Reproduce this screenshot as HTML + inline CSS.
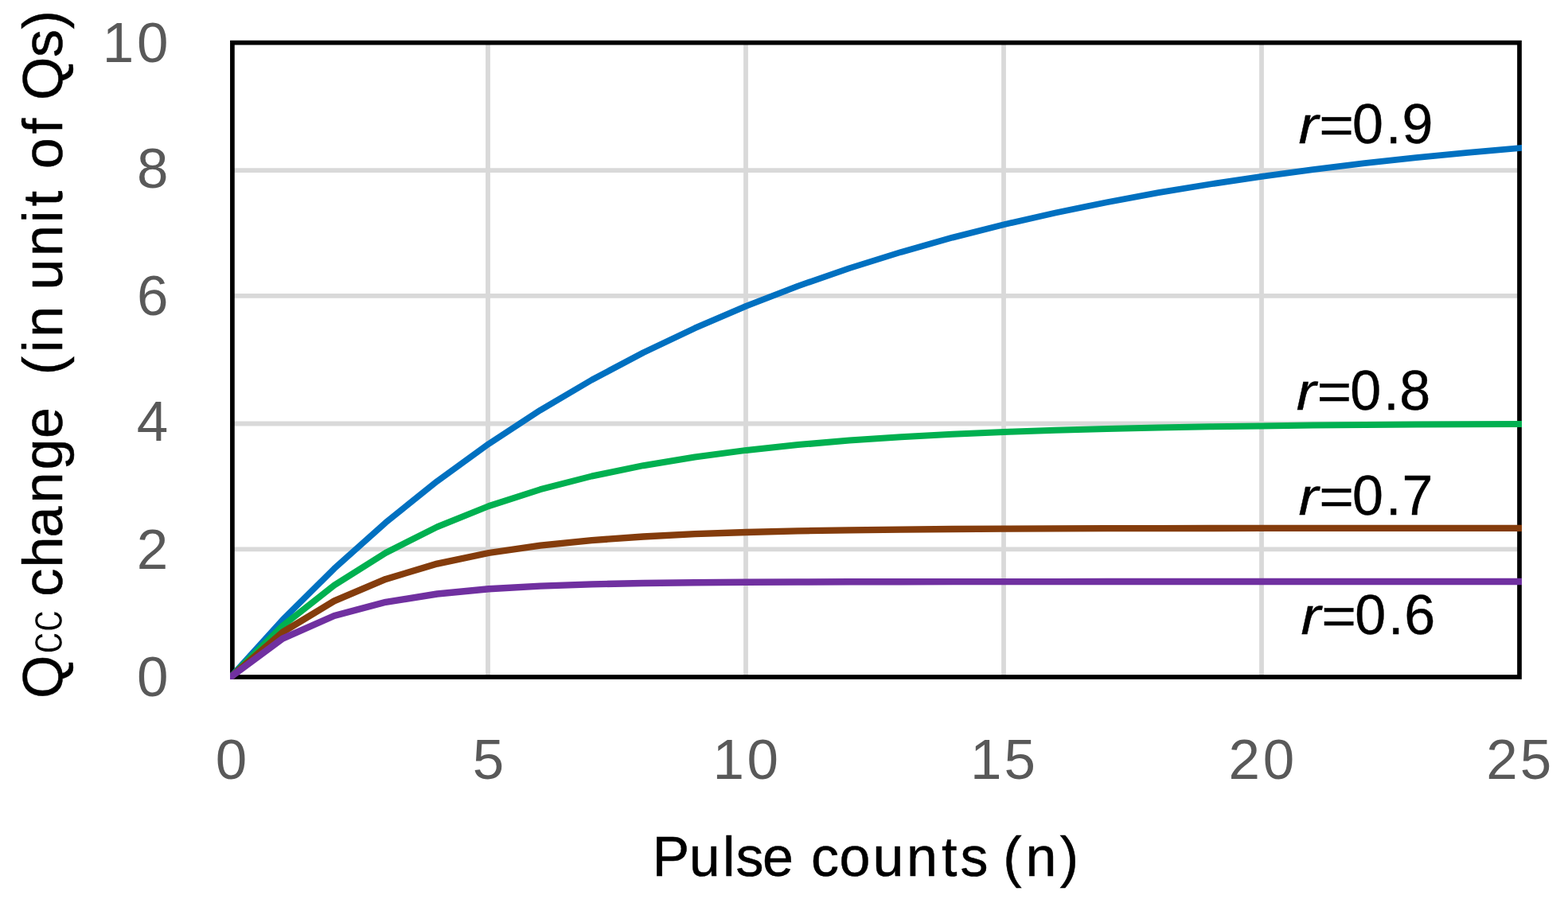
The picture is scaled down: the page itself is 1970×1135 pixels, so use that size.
<!DOCTYPE html>
<html lang="en"><head><meta charset="utf-8"><title>Qcc change vs pulse counts</title>
<style>
html,body{margin:0;padding:0;background:#fff;}
body{width:1970px;height:1135px;overflow:hidden;}
svg{display:block;filter:blur(0.6px);}
text{font-family:"Liberation Sans",sans-serif;white-space:pre;}
.tk{fill:#595959;font-size:71px;}
.lb{fill:#000;font-size:70px;stroke:#000;stroke-width:0.4px;}
.ax{fill:#000;font-size:70px;stroke:#000;stroke-width:0.5px;}
.it{font-style:italic;font-size:66px;}
.sub{font-size:64px;stroke:#fff;stroke-width:1.3px;}
</style></head><body>
<svg width="1970" height="1135" viewBox="0 0 1970 1135">
<rect x="0" y="0" width="1970" height="1135" fill="#ffffff"/>
<g stroke="#d9d9d9" stroke-width="5.8" fill="none">
<line x1="613" y1="54" x2="613" y2="851"/>
<line x1="937" y1="54" x2="937" y2="851"/>
<line x1="1261" y1="54" x2="1261" y2="851"/>
<line x1="1585" y1="54" x2="1585" y2="851"/>
<line x1="292" y1="214.2" x2="1909" y2="214.2"/>
<line x1="292" y1="371.9" x2="1909" y2="371.9"/>
<line x1="292" y1="532.5" x2="1909" y2="532.5"/>
<line x1="292" y1="690.3" x2="1909" y2="690.3"/>
</g>
<rect x="291.9" y="53.65" width="1617.1" height="797.3" fill="none" stroke="#000" stroke-width="5.7"/>
<clipPath id="cp"><rect x="289" y="40" width="1623" height="814"/></clipPath>
<g fill="none" stroke-width="8.4" stroke-linejoin="round" stroke-linecap="square" clip-path="url(#cp)">
<polyline stroke="#0070c0" stroke-width="7.8" points="290.4,850.5 355.1,779.0 419.9,714.7 484.6,656.8 549.3,604.8 614.0,557.9 678.8,515.6 743.5,477.5 808.2,443.2 873.0,412.4 937.7,384.6 1002.4,359.6 1067.2,337.1 1131.9,316.9 1196.6,298.6 1261.3,282.2 1326.1,267.5 1390.8,254.2 1455.5,242.2 1520.3,231.5 1585.0,221.8 1649.7,213.1 1714.5,205.2 1779.2,198.2 1843.9,191.8 1908.7,186.1"/>
<polyline stroke="#00b050" stroke-width="8.0" points="290.4,850.5 355.1,786.7 419.9,735.7 484.6,694.9 549.3,662.2 614.0,636.1 678.8,615.2 743.5,598.5 808.2,585.2 873.0,574.5 937.7,565.9 1002.4,559.1 1067.2,553.6 1131.9,549.2 1196.6,545.7 1261.3,542.9 1326.1,540.7 1390.8,538.9 1455.5,537.4 1520.3,536.3 1585.0,535.4 1649.7,534.6 1714.5,534.1 1779.2,533.6 1843.9,533.2 1908.7,532.9"/>
<polyline stroke="#843c0c" stroke-width="8.3" points="290.4,850.5 355.1,794.6 419.9,755.4 484.6,727.9 549.3,708.6 614.0,695.0 678.8,685.6 743.5,679.1 808.2,674.5 873.0,671.2 937.7,669.0 1002.4,667.4 1067.2,666.3 1131.9,665.6 1196.6,665.0 1261.3,664.6 1326.1,664.4 1390.8,664.2 1455.5,664.1 1520.3,664.0 1585.0,663.9 1649.7,663.9 1714.5,663.8 1779.2,663.8 1843.9,663.8 1908.7,663.8"/>
<polyline stroke="#7030a0" stroke-width="8.4" points="290.4,850.5 355.1,802.7 419.9,774.0 484.6,756.8 549.3,746.5 614.0,740.3 678.8,736.6 743.5,734.4 808.2,733.0 873.0,732.2 937.7,731.7 1002.4,731.5 1067.2,731.3 1131.9,731.2 1196.6,731.1 1261.3,731.1 1326.1,731.1 1390.8,731.0 1455.5,731.0 1520.3,731.0 1585.0,731.0 1649.7,731.0 1714.5,731.0 1779.2,731.0 1843.9,731.0 1908.7,731.0"/>
</g>
<text class="tk" y="78.0" x="128.8 172.0">10</text>
<text class="tk" y="235.7" x="172.1">8</text>
<text class="tk" y="396.0" x="171.9">6</text>
<text class="tk" y="554.1" x="171.7">4</text>
<text class="tk" y="715.0" x="171.7">2</text>
<text class="tk" y="874.9" x="172.1">0</text>
<text class="tk" y="979.3" x="270.7">0</text>
<text class="tk" y="979.3" x="593.7">5</text>
<text class="tk" y="979.3" x="895.4 938.5">10</text>
<text class="tk" y="979.3" x="1218.9 1261.6">15</text>
<text class="tk" y="979.3" x="1543.5 1586.8">20</text>
<text class="tk" y="979.3" x="1867.3 1909.8">25</text>
<text class="lb" y="180.2"><tspan class="it" x="1631.5" textLength="68.4" lengthAdjust="spacingAndGlyphs">r=</tspan><tspan x="1699.1 1741.0 1761.4">0.9</tspan></text>
<text class="lb" y="515.2"><tspan class="it" x="1628.7" textLength="68.4" lengthAdjust="spacingAndGlyphs">r=</tspan><tspan x="1696.3 1738.2 1758.3">0.8</tspan></text>
<text class="lb" y="647.4"><tspan class="it" x="1631.5" textLength="68.4" lengthAdjust="spacingAndGlyphs">r=</tspan><tspan x="1699.1 1741.0 1761.4">0.7</tspan></text>
<text class="lb" y="796.8"><tspan class="it" x="1634.5" textLength="68.4" lengthAdjust="spacingAndGlyphs">r=</tspan><tspan x="1702.2 1744.1 1764.2">0.6</tspan></text>
<text class="ax" y="1100.9" x="819.5 865.7 908.1 924.4 958.0 993.0 1019.1 1054.5 1096.6 1139.0 1183.0 1206.5 1241.5 1260.2 1288.4 1331.7">Pulse counts (n)</text>
<text class="ax" transform="translate(77.5,900.0) rotate(-90)" y="0"><tspan x="21.9">Q</tspan><tspan class="sub" x="78.0" textLength="55.0" lengthAdjust="spacingAndGlyphs">cc</tspan><tspan x="133.1 150.3 186.6 224.5 267.4 309.4 348.9 383.9 383.9 428.7 456.9 476.3 511.3 535.4 578.1 619.9 640.7 675.7 687.7 731.8 766.8 774.0 827.9 863.4"> change  (in unit of Qs)</tspan></text>
</svg></body></html>
